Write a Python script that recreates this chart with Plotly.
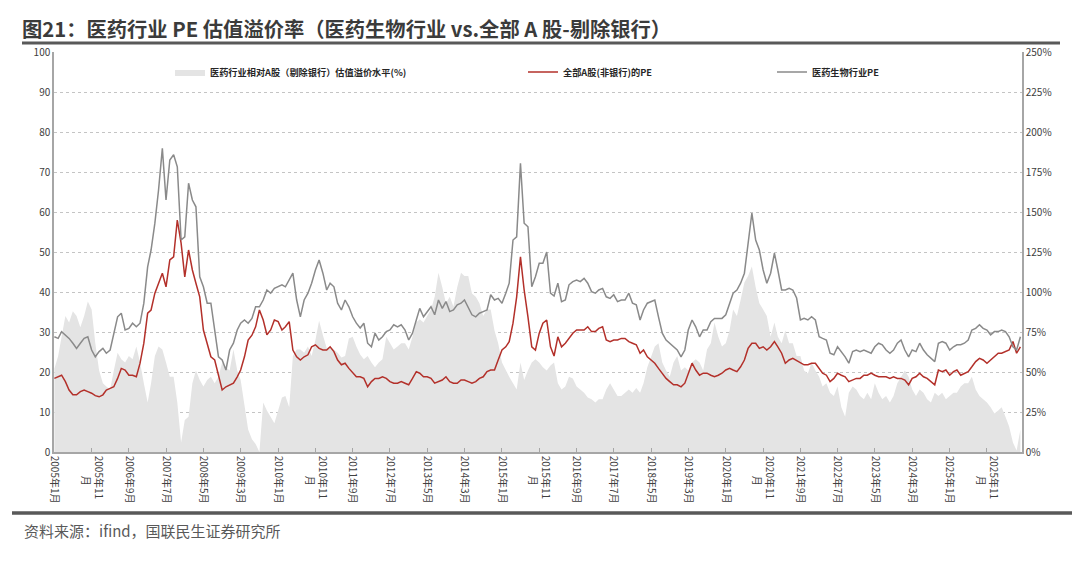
import plotly.graph_objects as go
import pandas as pd

# ---- data (monthly readings, left axis PE / right axis %) ----
premium_pct = [
    52, 60, 72, 85, 81, 88, 85, 78, 85, 94,
    89, 68, 51, 43, 41, 39, 51, 62, 58, 56,
    60, 58, 66, 56, 43, 31, 43, 60, 66, 64,
    56, 47, 47, 31, 6, 20, 22, 43, 51, 45,
    41, 45, 47, 43, 47, 56, 53, 51, 64, 51,
    45, 28, 14, 8, 5, 0, 31, 26, 22, 18,
    26, 34, 35, 28, 60, 64, 64, 62, 66, 60,
    70, 82, 73, 65, 66, 64, 62, 59, 60, 71,
    72, 66, 61, 58, 60, 56, 53, 56, 58, 72,
    68, 64, 66, 68, 68, 64, 72, 81, 83, 81,
    85, 89, 97, 112, 103, 93, 97, 91, 103, 112,
    110, 110, 99, 97, 93, 85, 89, 89, 76, 68,
    56, 51, 47, 43, 39, 56, 45, 51, 56, 58,
    56, 53, 51, 54, 56, 43, 39, 41, 47, 46,
    41, 39, 37, 34, 33, 31, 33, 33, 39, 43,
    39, 35, 35, 37, 39, 37, 40, 37, 43, 53,
    60, 66, 68, 56, 51, 47, 56, 60, 51, 53,
    51, 56, 58, 56, 51, 64, 68, 81, 72, 66,
    68, 76, 89, 85, 95, 106, 110, 116, 103, 93,
    89, 85, 72, 81, 72, 68, 76, 68, 68, 60,
    60, 51, 49, 56, 51, 47, 41, 43, 37, 35,
    41, 28, 22, 37, 41, 39, 35, 33, 37, 33,
    43, 37, 33, 35, 31, 35, 43, 47, 51, 47,
    39, 35, 39, 37, 33, 31, 37, 35, 37, 33,
    35, 37, 37, 41, 43, 43, 47, 39, 35, 33,
    31, 28, 24, 26, 28, 22, 16, 6, 1, 14,
]

pe_all_ex_bank = [
    18.4, 18.8, 19.2, 17.6, 15.5, 14.3, 14.3, 15.1, 15.5, 15.1,
    14.7, 14.1, 13.8, 14.3, 15.5, 15.9, 16.3, 18.4, 20.9, 20.5,
    19.2, 19.2, 18.8, 22.2, 27.2, 34.7, 35.5, 39.7, 42.2, 44.7,
    41.3, 48.0, 48.8, 58.0, 52.2, 43.8, 50.5, 45.5, 42.2, 38.8,
    30.5, 27.2, 23.8, 23.0, 18.8, 15.5, 16.3, 16.8, 17.2, 18.8,
    20.5, 23.8, 28.0, 29.2, 31.3, 35.5, 33.0, 29.3, 30.5, 33.0,
    32.6, 30.5, 31.3, 32.6, 25.5, 23.8, 23.0, 23.8, 24.3, 26.3,
    26.8, 25.9, 25.5, 25.5, 26.3, 25.1, 23.0, 21.8, 22.2, 20.9,
    19.7, 18.8, 18.8, 18.4, 16.3, 17.6, 18.4, 18.4, 18.8, 18.4,
    17.6, 17.2, 17.2, 17.6, 17.2, 16.8, 18.4, 20.1, 19.7, 18.8,
    18.8, 18.4, 17.2, 17.6, 18.0, 18.8, 17.6, 17.2, 17.2, 18.0,
    18.0, 17.6, 17.2, 17.6, 18.4, 18.8, 20.1, 20.5, 20.5, 23.0,
    25.5, 26.3, 27.6, 32.2, 38.8, 48.8, 40.5, 33.8, 26.3, 25.5,
    29.7, 32.2, 33.0, 26.3, 24.0, 28.8, 26.3, 27.2, 28.4, 29.7,
    30.5, 30.5, 30.5, 31.3, 30.1, 30.1, 30.9, 31.3, 28.0, 27.6,
    28.0, 28.0, 28.4, 28.4, 27.6, 27.2, 26.8, 24.7, 25.5, 23.8,
    23.0, 22.2, 20.9, 19.7, 18.4, 17.6, 16.8, 16.8, 16.3, 17.2,
    19.7, 22.2, 20.5, 19.2, 19.7, 19.7, 19.2, 18.8, 19.2, 19.7,
    20.5, 20.9, 20.5, 20.1, 21.3, 23.0, 25.9, 27.2, 27.2, 25.9,
    26.3, 25.5, 26.3, 27.6, 26.3, 24.7, 22.2, 23.0, 23.4, 22.8,
    22.2, 21.8, 21.8, 22.2, 22.2, 20.9, 19.7, 19.2, 17.6, 18.4,
    19.7, 19.2, 18.8, 17.6, 18.0, 18.4, 18.4, 19.2, 19.2, 19.7,
    19.2, 18.8, 18.8, 18.8, 18.4, 18.8, 18.4, 18.4, 18.0, 16.8,
    18.4, 18.8, 19.7, 18.8, 18.4, 17.6, 16.8, 20.5, 20.1, 20.5,
    19.2, 20.1, 20.5, 19.2, 19.7, 20.1, 21.3, 22.6, 23.4, 23.0,
    22.2, 23.0, 23.8, 24.7, 24.7, 25.1, 25.5, 27.6, 24.7, 26.3,
]

pe_pharma = [
    28.8, 28.4, 30.1, 29.3, 28.4, 27.2, 25.9, 27.2, 28.4, 28.8,
    25.5, 23.8, 25.1, 25.9, 24.7, 25.5, 29.7, 33.8, 34.7, 30.5,
    30.9, 32.2, 31.3, 32.2, 37.2, 46.3, 50.5, 57.2, 65.5, 75.9,
    63.0, 73.0, 74.3, 71.3, 53.0, 53.8, 67.2, 63.0, 61.3, 43.8,
    41.3, 37.2, 37.2, 30.5, 23.8, 23.0, 20.5, 25.5, 27.2, 30.5,
    32.2, 33.0, 32.2, 33.4, 36.3, 36.3, 38.0, 40.5, 39.7, 40.9,
    41.3, 41.8, 41.3, 43.0, 44.7, 38.0, 33.8, 38.0, 39.7, 42.2,
    45.5, 48.0, 44.7, 40.5, 42.2, 41.3, 37.2, 35.5, 38.0, 36.3,
    33.8, 32.2, 31.0, 32.2, 27.2, 26.3, 29.7, 28.0, 28.8, 30.1,
    30.5, 31.8, 31.3, 31.8, 30.5, 28.0, 29.7, 33.0, 35.9, 33.8,
    35.1, 36.3, 34.3, 38.0, 35.9, 37.6, 35.1, 35.5, 36.8, 37.2,
    38.0, 36.3, 34.3, 33.8, 34.7, 35.1, 35.5, 39.3, 38.0, 38.4,
    37.2, 39.7, 42.2, 53.0, 53.8, 72.2, 57.2, 56.3, 41.3, 43.8,
    47.2, 47.2, 50.0, 39.7, 39.0, 42.2, 37.6, 38.0, 41.8, 42.6,
    43.0, 42.6, 43.4, 42.2, 40.1, 39.7, 40.5, 40.9, 38.8, 38.4,
    39.3, 37.6, 38.0, 38.0, 39.7, 37.2, 36.8, 33.0, 35.5, 37.2,
    37.6, 38.0, 33.8, 29.7, 28.0, 27.2, 26.3, 25.5, 23.8, 25.5,
    30.5, 33.0, 31.3, 28.8, 30.5, 30.5, 32.6, 33.4, 33.4, 33.4,
    34.3, 37.2, 39.7, 40.5, 42.2, 44.7, 52.2, 59.7, 53.0, 50.5,
    45.5, 42.2, 44.7, 49.7, 45.5, 40.5, 40.5, 40.9, 40.5, 38.5,
    33.0, 33.4, 33.0, 33.8, 33.0, 28.8, 28.4, 28.0, 24.7, 24.3,
    26.3, 25.1, 23.8, 22.2, 25.1, 25.5, 25.1, 25.5, 25.1, 24.7,
    26.3, 27.2, 26.8, 25.5, 24.7, 25.5, 27.2, 28.0, 25.5, 23.8,
    25.5, 25.1, 27.2, 25.5, 24.3, 23.4, 22.6, 27.2, 27.6, 27.2,
    25.5, 26.3, 26.8, 26.8, 27.2, 28.0, 30.5, 30.9, 31.8, 30.9,
    30.5, 29.3, 30.1, 30.1, 30.5, 30.1, 28.8, 26.3, 25.5, 28.8,
]

tick_dates = [
    "2005-01-01", "2005-11-01", "2006-09-01", "2007-07-01", "2008-05-01",
    "2009-03-01", "2010-01-01", "2010-11-01", "2011-09-01", "2012-07-01",
    "2013-05-01", "2014-03-01", "2015-01-01", "2015-11-01", "2016-09-01",
    "2017-07-01", "2018-05-01", "2019-03-01", "2020-01-01", "2020-11-01",
    "2021-09-01", "2022-07-01", "2023-05-01", "2024-03-01", "2025-01-01",
    "2025-11-01",
]
tick_labels = [
    "2005年1月", "2005年11<br>\u3000\u3000月", "2006年9月", "2007年7月", "2008年5月",
    "2009年3月", "2010年1月", "2010年11<br>\u3000\u3000月", "2011年9月", "2012年7月",
    "2013年5月", "2014年3月", "2015年1月", "2015年11<br>\u3000\u3000月", "2016年9月",
    "2017年7月", "2018年5月", "2019年3月", "2020年1月", "2020年11<br>\u3000\u3000月",
    "2021年9月", "2022年7月", "2023年5月", "2024年3月", "2025年1月",
    "2025年11<br>\u3000\u3000月",
]

series_names = [
    "医药行业相对A股（剔除银行）估值溢价水平(%)",
    "全部A股(非银行)的PE",
    "医药生物行业PE",
]

dates = pd.date_range("2005-01-01", periods=len(pe_all_ex_bank), freq="MS")

FONT = "Noto Sans CJK SC, Noto Sans, sans-serif"
AXIS_COLOR = "#a6a6a6"

# page body has an 8px margin; figure is sized/placed to compensate
W, H = 1072, 555
ML, MT, PW, PH = 46, 44, 968, 400


def px_x(px):
    return (px - 8 - ML) / PW


def px_y(py):
    return (MT + PH - (py - 8)) / PH


fig = go.Figure()

fig.add_trace(go.Scatter(
    x=dates, y=premium_pct, name=series_names[0], yaxis="y",
    mode="lines", fill="tozeroy", fillcolor="#e4e4e4",
    line=dict(width=0, color="#e4e4e4"), legend="legend",
))
fig.add_trace(go.Scatter(
    x=dates, y=pe_all_ex_bank, name=series_names[1], yaxis="y2",
    mode="lines", line=dict(width=1.5, color="#b3302a"), legend="legend2",
))
fig.add_trace(go.Scatter(
    x=dates, y=pe_pharma, name=series_names[2], yaxis="y2",
    mode="lines", line=dict(width=1.5, color="#8a8a8a"), legend="legend3",
))

legend_common = dict(
    orientation="h", yanchor="middle", y=px_y(72), xanchor="left",
    font=dict(family=FONT, size=9.2, color="#262626", weight="bold"),
    bgcolor="rgba(0,0,0,0)", itemwidth=30,
)

fig.update_layout(
    width=W, height=H,
    margin=dict(l=ML, r=W - ML - PW, t=MT, b=H - MT - PH),
    paper_bgcolor="white", plot_bgcolor="white",
    font=dict(family=FONT, color="#404040"),
    showlegend=True,
    legend=dict(legend_common, x=px_x(170)),
    legend2=dict(legend_common, x=px_x(523)),
    legend3=dict(legend_common, x=px_x(772)),
    title=dict(
        text="<b>图21：医药行业 PE 估值溢价率（医药生物行业 vs.全部 A 股-剔除银行）</b>",
        x=(22 - 8) / W, xanchor="left", xref="container",
        y=1 - (30 - 8) / H, yanchor="middle", yref="container",
        font=dict(family=FONT, size=20.3, color="#3b3b3b"),
    ),
    xaxis=dict(
        type="date", range=["2004-12-29", "2026-08-14"],
        tickmode="array", tickvals=tick_dates, ticktext=tick_labels,
        tickangle=90, tickfont=dict(size=10, color="#404040"),
        showline=True, linecolor=AXIS_COLOR, linewidth=1.5,
        ticks="inside", ticklen=4, tickcolor=AXIS_COLOR,
        showgrid=False, zeroline=False,
    ),
    yaxis=dict(
        side="right", range=[0, 250], dtick=25, ticksuffix="%",
        tickfont=dict(size=10, color="#404040"),
        showline=True, linecolor=AXIS_COLOR, linewidth=1.5,
        showgrid=True, gridcolor="#c4c4c4", gridwidth=1, griddash="dot",
        zeroline=False, ticks="",
    ),
    yaxis2=dict(
        overlaying="y", side="left", range=[0, 100], dtick=10,
        tickfont=dict(size=10, color="#404040"),
        showline=True, linecolor=AXIS_COLOR, linewidth=1.5,
        showgrid=False, zeroline=False, ticks="",
    ),
    shapes=[
        dict(type="line", xref="paper", yref="paper",
             x0=px_x(22), x1=px_x(1060), y0=px_y(43), y1=px_y(43),
             line=dict(color="#595959", width=3)),
        dict(type="line", xref="paper", yref="paper",
             x0=px_x(12), x1=px_x(1075), y0=px_y(513), y1=px_y(513),
             line=dict(color="#595959", width=3.5)),
    ],
    annotations=[
        dict(text="资料来源：ifind，国联民生证券研究所",
             xref="paper", yref="paper", x=px_x(22), y=px_y(530),
             xanchor="left", yanchor="middle", showarrow=False,
             font=dict(family=FONT, size=15, color="#595959")),
    ],
)

fig.write_html("out.html")
